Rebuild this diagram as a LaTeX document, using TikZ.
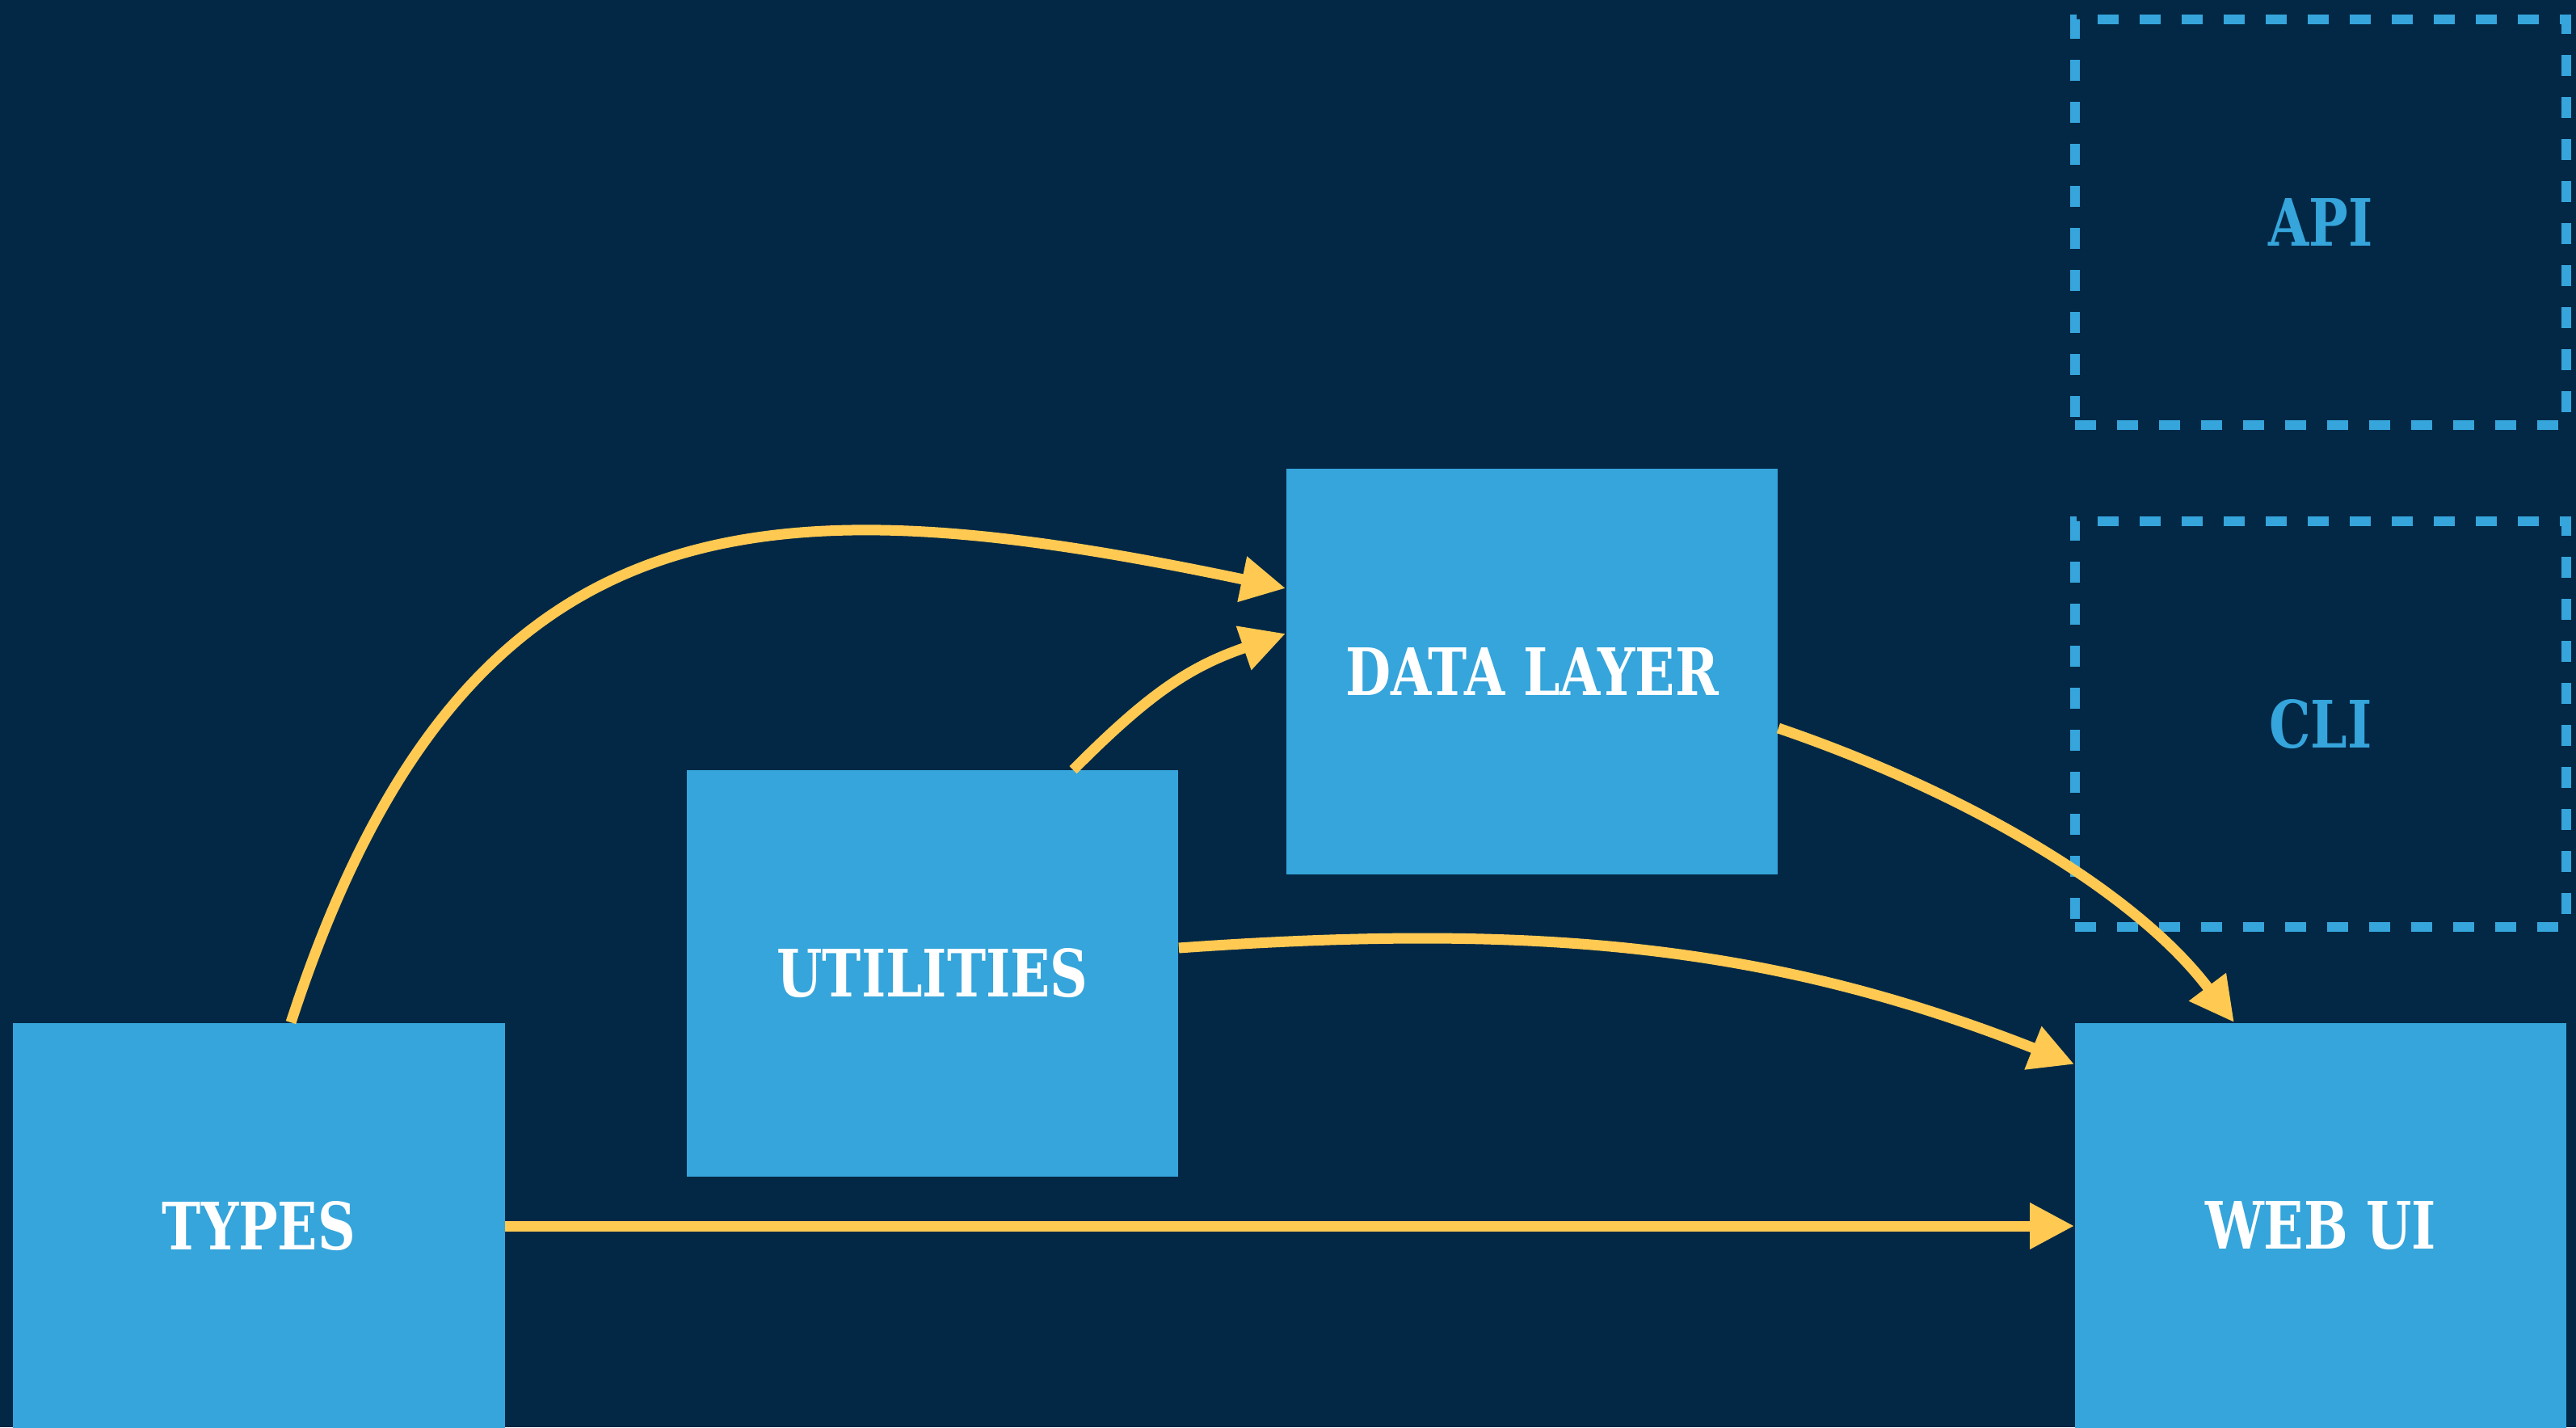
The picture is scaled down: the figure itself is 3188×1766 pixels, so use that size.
\documentclass[tikz,border=0pt]{standalone}
\usepackage{fontspec}
\setmainfont{DejaVu Serif}[FakeStretch=0.8]
\usetikzlibrary{arrows.meta}
\definecolor{bgnavy}{HTML}{022846}
\definecolor{boxblue}{HTML}{35A5DB}
\definecolor{arrowyellow}{HTML}{FFC952}
\begin{document}
\begin{tikzpicture}[x=0.01cm,y=-0.01cm,
  solidbox/.style={fill=boxblue,draw=none,minimum width=6.08cm,minimum height=5.02cm,inner sep=0pt,
    text=white,font=\fontsize{23}{23}\selectfont\bfseries},
  ghostbox/.style={draw=boxblue,line width=0.12cm,dash pattern=on 0.26cm off 0.26cm,
    minimum width=6.08cm,minimum height=5.02cm,inner sep=0pt,
    text=boxblue,font=\fontsize{23}{23}\selectfont\bfseries},
  dep/.style={draw=arrowyellow,line width=0.13cm,-{Triangle[length=0.55cm,width=0.54cm]}}]
\fill[bgnavy] (0,0) rectangle (3188,1766);
\useasboundingbox (0,0) rectangle (3188,1766);
\node[solidbox] (types) at (320.5,1517) {TYPES};
\node[solidbox] (util) at (1154,1204.5) {UTILITIES};
\node[solidbox] (data) at (1896,831) {DATA LAYER};
\node[solidbox] (webui) at (2872,1517) {WEB UI};
\node[ghostbox] (api) at (2872,275) {API};
\node[ghostbox] (cli) at (2872,896) {CLI};
\draw[dep] ([xshift=0.395cm]types.north) .. controls (575,604) and (946,593) .. ([yshift=1.03cm]data.west);
\draw[dep] ([xshift=1.74cm]util.north) .. controls (1425,855) and (1475,824) .. ([yshift=0.47cm]data.west);
\draw[dep] ([yshift=0.315cm]util.east) .. controls (1907,1141) and (2195,1170) .. ([yshift=2.0cm]webui.west);
\draw[dep] ([yshift=-0.7cm]data.east) .. controls (2438,982) and (2645,1106) .. ([xshift=-1.07cm]webui.north);
\draw[dep] (types.east) -- (webui.west);
\end{tikzpicture}
\end{document}
